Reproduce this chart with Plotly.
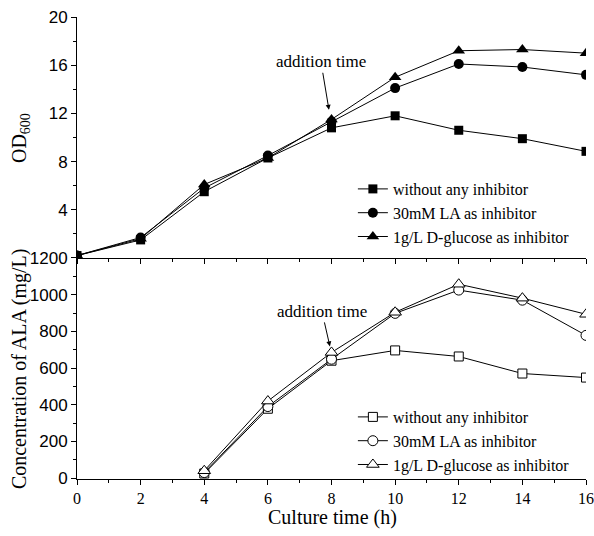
import plotly.graph_objects as go

# ---- data ----
t_od = [0, 2, 4, 6, 8, 10, 12, 14, 16]
od_none = [0.2, 1.5, 5.5, 8.3, 10.8, 11.8, 10.6, 9.9, 8.85]
od_la = [0.2, 1.7, 5.8, 8.5, 11.3, 14.1, 16.1, 15.85, 15.2]
od_glc = [0.2, 1.6, 6.1, 8.3, 11.5, 15.0, 17.2, 17.3, 17.0]

t_ala = [4, 6, 8, 10, 12, 14, 16]
ala_none = [25, 378, 640, 696, 663, 570, 548]
ala_la = [30, 390, 648, 898, 1025, 970, 778]
ala_glc = [40, 420, 685, 904, 1057, 981, 893]

od_ticks = [4, 8, 12, 16, 20]
od_minor = [2, 6, 10, 14, 18]

names = ["without any inhibitor", "30mM LA as inhibitor", "1g/L D-glucose as inhibitor"]
symbols = ["square", "circle", "triangle-up"]
sizes = [9, 10, 11]

SERIF = "Liberation Serif"
SANS = "Liberation Sans"

fig = go.Figure()

for ys, nm, sym, sz in zip([od_none, od_la, od_glc], names, symbols, sizes):
    fig.add_trace(go.Scatter(
        x=t_od, y=ys, name=nm, mode="lines+markers",
        line=dict(color="black", width=1),
        marker=dict(symbol=sym, size=sz, color="black"),
        xaxis="x2", yaxis="y", legend="legend"))

for ys, nm, sym, sz in zip([ala_none, ala_la, ala_glc], names, symbols, sizes):
    fig.add_trace(go.Scatter(
        x=t_ala, y=ys, name=nm, mode="lines+markers",
        line=dict(color="black", width=1),
        marker=dict(symbol=sym, size=sz, color="white",
                    line=dict(color="black", width=1)),
        xaxis="x", yaxis="y2", legend="legend2"))

d = 0.4784
common = dict(showline=True, linecolor="black", linewidth=1, showgrid=False,
              zeroline=False, tickcolor="black", tickwidth=1, ticklen=5,
              automargin=False)

legend_common = dict(xanchor="left", yanchor="top", bgcolor="rgba(0,0,0,0)",
                     borderwidth=0, itemwidth=30, tracegroupgap=0,
                     font=dict(family=SERIF, size=16, color="black"))

fig.update_layout(
    width=594, height=536,
    margin=dict(l=77, r=8, t=17, b=57, autoexpand=False),
    paper_bgcolor="white", plot_bgcolor="white",
    showlegend=True,
    xaxis=dict(**common, domain=[0, 1], anchor="y2", range=[0, 16],
               ticks="outside", dtick=2, tick0=0,
               minor=dict(dtick=1, ticks="outside", ticklen=3, tickcolor="black"),
               tickfont=dict(family=SERIF, size=16, color="black")),
    xaxis2=dict(**common, domain=[0, 1], anchor="y", range=[0, 16],
                ticks="outside", dtick=2, tick0=0, showticklabels=False,
                minor=dict(dtick=1, ticks="outside", ticklen=3, tickcolor="black")),
    xaxis3=dict(**common, overlaying="x2", anchor="y", side="top", range=[0, 16],
                ticks="inside", dtick=3.2, tick0=0, showticklabels=False,
                minor=dict(dtick=1.6, ticks="inside", ticklen=3, tickcolor="black")),
    yaxis=dict(**common, domain=[d, 1], anchor="x2", range=[0, 20],
               ticks="outside", tickmode="array", tickvals=od_ticks,
               minor=dict(tickmode="array", tickvals=od_minor, ticks="outside",
                          ticklen=3, tickcolor="black"),
               tickfont=dict(family=SANS, size=17, color="black")),
    yaxis3=dict(**common, overlaying="y", anchor="x2", side="right", range=[0, 20],
                ticks="inside", dtick=4, tick0=0, showticklabels=False,
                minor=dict(dtick=2, ticks="inside", ticklen=3, tickcolor="black")),
    yaxis2=dict(**common, domain=[0, d], anchor="x", range=[-5, 1200],
                ticks="outside", dtick=200, tick0=0,
                minor=dict(dtick=100, ticks="outside", ticklen=3, tickcolor="black"),
                tickfont=dict(family=SANS, size=17, color="black")),
    yaxis4=dict(**common, overlaying="y2", anchor="x", side="right", range=[-5, 1200],
                ticks="inside", dtick=240, tick0=0, showticklabels=False,
                minor=dict(dtick=120, ticks="inside", ticklen=3, tickcolor="black")),
    legend=dict(**legend_common, x=0.542, y=0.6645),
    legend2=dict(**legend_common, x=0.542, y=0.171),
    annotations=[
        dict(text="addition time", x=7.92, y=12.3, xref="x2", yref="y",
             ax=-8, ay=-48, showarrow=True, arrowhead=2, arrowsize=1, arrowwidth=1,
             arrowcolor="black", font=dict(family=SERIF, size=17, color="black")),
        dict(text="addition time", x=7.95, y=718, xref="x", yref="y2",
             ax=-8, ay=-35, showarrow=True, arrowhead=2, arrowsize=1, arrowwidth=1,
             arrowcolor="black", font=dict(family=SERIF, size=17, color="black")),
        dict(text="Culture time (h)", x=0.502, y=-0.084, xref="paper", yref="paper",
             xanchor="center", yanchor="middle", showarrow=False,
             font=dict(family=SERIF, size=20, color="black")),
        dict(text="OD<sub>600</sub>", x=-0.112, y=0.738, xref="paper", yref="paper",
             xanchor="center", yanchor="middle", textangle=-90, showarrow=False,
             font=dict(family=SERIF, size=20, color="black")),
        dict(text="Concentration of ALA (mg/L)", x=-0.114, y=0.240, xref="paper", yref="paper",
             xanchor="center", yanchor="middle", textangle=-90, showarrow=False,
             font=dict(family=SERIF, size=20, color="black")),
    ],
)

fig.write_html("out.html")
